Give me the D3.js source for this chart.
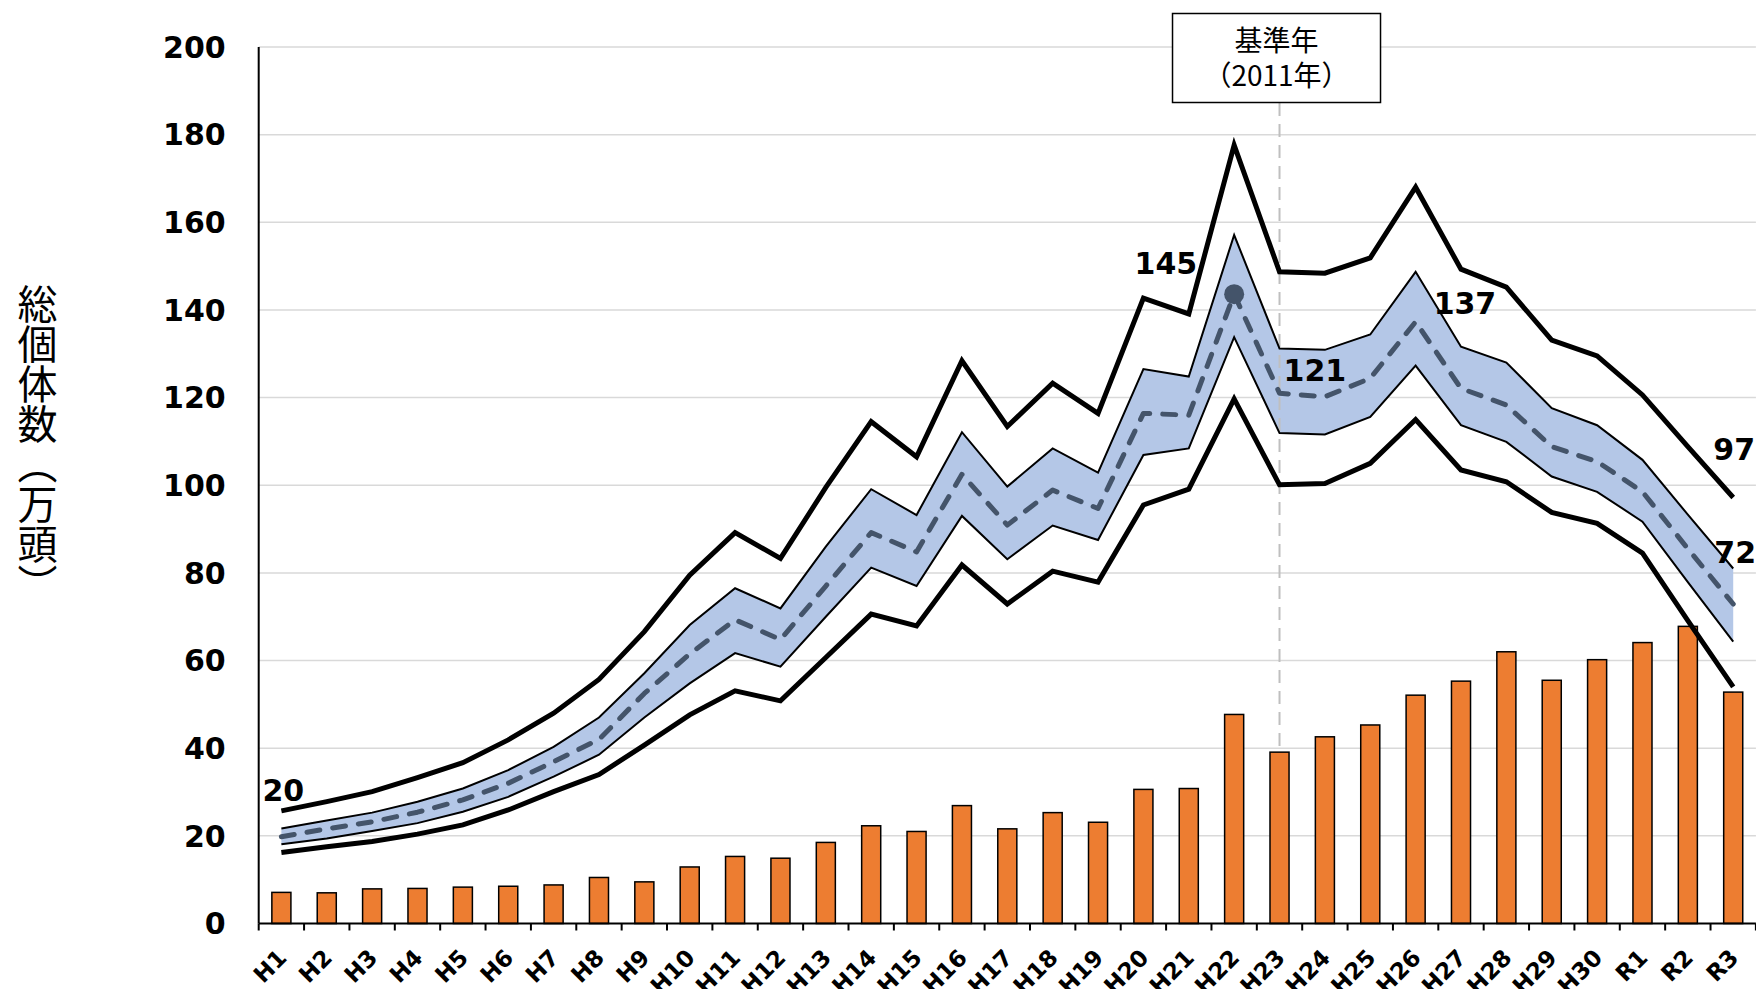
<!DOCTYPE html>
<html><head><meta charset="utf-8">
<script src="https://cdn.jsdelivr.net/npm/d3@7"></script>
<style>body{margin:0;background:#fff}svg{display:block}</style>
</head><body>
<svg id="c" width="1756" height="989"></svg>
<script>
const categories = ["H1","H2","H3","H4","H5","H6","H7","H8","H9","H10","H11","H12","H13","H14","H15","H16","H17","H18","H19","H20","H21","H22","H23","H24","H25","H26","H27","H28","H29","H30","R1","R2","R3"];
const barValues = [7.1,7.0,7.9,8.0,8.3,8.5,8.8,10.5,9.5,12.9,15.3,14.9,18.5,22.3,21.0,26.9,21.6,25.3,23.1,30.6,30.8,47.7,39.1,42.6,45.3,52.1,55.3,62.0,55.5,60.2,64.1,67.8,52.8];
const upper90 = [25.7,27.8,30.1,33.3,36.7,41.9,48.0,55.7,66.6,79.5,89.2,83.3,99.5,114.5,106.5,128.4,113.4,123.3,116.4,142.7,139.1,177.6,148.7,148.4,151.9,168.0,149.3,145.2,133.1,129.5,120.6,108.8,97.2];
const upper50 = [21.7,23.5,25.3,27.8,30.8,35.0,40.3,47.0,57.1,68.1,76.5,71.9,86.0,99.1,93.2,112.1,99.7,108.4,102.9,126.5,124.8,157.1,131.2,130.9,134.4,148.7,131.6,128.0,117.6,113.7,105.8,93.3,81.0];
const median = [19.8,21.6,23.2,25.4,28.2,32.0,36.9,42.0,52.5,61.5,69.3,64.8,77.0,89.2,84.8,102.5,90.9,98.9,94.7,116.4,116.0,143.6,121.0,120.2,124.4,137.3,122.1,118.3,108.8,105.4,98.5,85.5,72.9];
const lower50 = [18.1,19.4,21.1,22.9,25.5,28.9,33.5,38.5,47.0,54.8,61.7,58.6,70.0,81.2,77.0,93.0,83.1,90.8,87.5,106.9,108.4,133.8,111.9,111.6,115.6,127.3,113.7,109.9,102.0,98.5,91.7,77.9,64.3];
const lower90 = [16.2,17.5,18.7,20.4,22.5,25.9,30.1,34.0,40.7,47.6,53.1,50.8,60.7,70.6,67.9,81.8,72.9,80.4,77.9,95.5,99.1,119.7,100.1,100.4,105.0,115.0,103.5,100.8,93.8,91.3,84.5,69.1,54.0];
const yTicks = [0,20,40,60,80,100,120,140,160,180,200];
const yTitle = "総個体数（万頭）";
const baseYearCat = "H23";
const baseYearLines = ["基準年","（2011年）"];
const markerCat = "H22";
const labelTexts = ["20","145","121","137","97","72"];
const labelCats  = ["H1","H22","H23","H26","R3","R3"];
const labelSeries = ["median","median","median","median","upper90","median"];

(function(){
// layout (not data)
const labelLayout = [
  {anchor:"middle", dx:2,   dy:-36},
  {anchor:"end",    dx:-37, dy:-20},
  {anchor:"start",  dx:4,   dy:-12},
  {anchor:"start",  dx:18,  dy:-8},
  {anchor:"middle", dx:1,   dy:-38},
  {anchor:"middle", dx:2,   dy:-41}
];

const svg = d3.select("#c");
const pLeft = 258.7, pRight = 1755.9, pTop = 47, pBottom = 923.5;
const x = d3.scaleBand().domain(categories).range([pLeft, pRight]).padding(0);
const cx = c => x(c) + x.bandwidth()/2;
const y = d3.scaleLinear().domain([0,200]).range([pBottom, pTop]);

const series = {upper90, upper50, median, lower50, lower90};
const rows = categories.map((c,i)=>({c, bar:barValues[i], u90:upper90[i], u50:upper50[i], m:median[i], l50:lower50[i], l90:lower90[i]}));

// gridlines
svg.append("g").selectAll("line").data(yTicks.filter(t=>t>0)).join("line")
  .attr("x1", pLeft).attr("x2", pRight).attr("y1", d=>y(d)).attr("y2", d=>y(d))
  .attr("stroke", "#d9d9d9").attr("stroke-width", 1.5);

// band
svg.append("path").datum(rows)
  .attr("d", d3.area().x(d=>cx(d.c)).y0(d=>y(d.l50)).y1(d=>y(d.u50)))
  .attr("fill", "#b4c7e7");

// base year dashed line
svg.append("line")
  .attr("x1", cx(baseYearCat)).attr("x2", cx(baseYearCat))
  .attr("y1", 103).attr("y2", pBottom)
  .attr("stroke", "#bfbfbf").attr("stroke-width", 2).attr("stroke-dasharray", "13,8");

// bars
const bw = x.bandwidth()*0.42;
svg.append("g").selectAll("rect").data(rows).join("rect")
  .attr("x", d=>cx(d.c)-bw/2).attr("width", bw)
  .attr("y", d=>y(d.bar)).attr("height", d=>y(0)-y(d.bar))
  .attr("fill", "#ed7d31").attr("stroke", "#000").attr("stroke-width", 1.5);

// lines
const line = key => d3.line().x(d=>cx(d.c)).y(d=>y(d[key]));
[["u50",2],["l50",2],["u90",5],["l90",5]].forEach(([k,w])=>{
  svg.append("path").attr("d", line(k)(rows))
    .attr("fill","none").attr("stroke","#000").attr("stroke-width",w).attr("stroke-linejoin","miter");
});
// median dashed
svg.append("path").attr("d", line("m")(rows))
  .attr("fill","none").attr("stroke","#44546a").attr("stroke-width",5)
  .attr("stroke-dasharray","13,13").attr("stroke-linecap","round").attr("stroke-linejoin","round");
// marker
const mi = categories.indexOf(markerCat);
svg.append("circle").attr("cx", cx(markerCat)).attr("cy", y(median[mi])).attr("r", 10).attr("fill","#44546a");

// axes
svg.append("line").attr("x1", pLeft).attr("x2", pLeft).attr("y1", pTop).attr("y2", pBottom)
  .attr("stroke","#000").attr("stroke-width",2);
const xAxis = svg.append("g").attr("transform", `translate(0,${pBottom})`);
xAxis.append("line").attr("x1", pLeft).attr("x2", pRight).attr("stroke","#000").attr("stroke-width",2);
xAxis.selectAll("line.tk").data(d3.range(categories.length+1)).join("line").attr("class","tk")
  .attr("x1", i=>pLeft + i*x.bandwidth()).attr("x2", i=>pLeft + i*x.bandwidth())
  .attr("y1",0).attr("y2",7).attr("stroke","#000").attr("stroke-width",2);
xAxis.selectAll("text").data(categories).join("text")
  .attr("transform", c=>`translate(${cx(c)+1},${30}) rotate(-45)`)
  .attr("text-anchor","end").attr("dy","0.35em")
  .attr("font-family","DejaVu Sans").attr("font-weight","bold").attr("font-size",23)
  .text(c=>c);

// y tick labels
svg.append("g").selectAll("text").data(yTicks).join("text")
  .attr("x", pLeft-33).attr("y", d=>y(d)).attr("dy","0.36em")
  .attr("text-anchor","end").attr("font-family","DejaVu Sans").attr("font-weight","bold").attr("font-size",30)
  .text(d=>d);

// y title
svg.append("text").attr("x", 37.5).attr("y", 444)
  .attr("text-anchor","middle").style("writing-mode","vertical-rl")
  .attr("font-family","Noto Sans CJK JP").attr("font-size",40).attr("fill","#000")
  .text(yTitle);

// base year box
const bx = cx(baseYearCat);
svg.append("rect").attr("x", bx-107).attr("y", 13.5).attr("width", 208).attr("height", 89)
  .attr("fill","#fff").attr("stroke","#000").attr("stroke-width",1.5);
svg.append("g").selectAll("text").data(baseYearLines).join("text")
  .attr("x", bx-3).attr("y",(d,i)=>41+i*35).attr("dy","0.35em").attr("text-anchor","middle")
  .attr("font-family","Noto Sans CJK JP").attr("font-size",28)
  .text(d=>d);

// data labels
svg.append("g").selectAll("text").data(labelTexts).join("text")
  .attr("x",(t,i)=>cx(labelCats[i]) + labelLayout[i].dx)
  .attr("y",(t,i)=>y(series[labelSeries[i]][categories.indexOf(labelCats[i])]) + labelLayout[i].dy)
  .attr("text-anchor",(t,i)=>labelLayout[i].anchor)
  .attr("font-family","DejaVu Sans").attr("font-weight","bold").attr("font-size",30)
  .text(t=>t);
})();
</script>
</body></html>
